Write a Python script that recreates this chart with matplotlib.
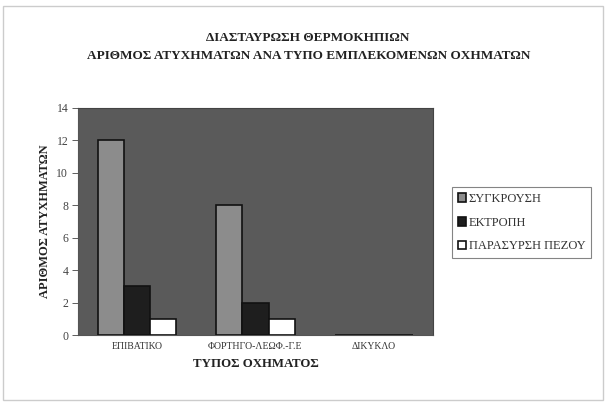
import matplotlib
matplotlib.use("Agg")
import matplotlib.pyplot as plt
import numpy as np
from matplotlib.patches import Rectangle

categories = ["ΕΠΙΒΑΤΙΚΟ", "ΦΟΡΤΗΓΟ-ΛΕΩΦ.-Γ.Ε", "ΔΙΚΥΚΛΟ"]
series_names = ["ΣΥΓΚΡΟΥΣΗ", "ΕΚΤΡΟΠΗ", "ΠΑΡΑΣΥΡΣΗ ΠΕΖΟΥ"]
sygkrousi = [12, 8, 0]
ektropi = [3, 2, 0]
parasyrsi = [1, 1, 0]
yticks = [0, 2, 4, 6, 8, 10, 12, 14]

plt.rcParams['font.family'] = ['Liberation Serif', 'DejaVu Serif']

fig = plt.figure(figsize=(6.06, 4.04), dpi=100)
fig.patch.set_facecolor('white')
ax = fig.add_axes([78/606, 1-335/404, (433-78)/606, (335-108)/404])
ax.set_facecolor('#5a5a5a')

x = np.arange(len(categories))
w = 0.22
colors = ['#8c8c8c', '#1e1e1e', '#ffffff']
for i, (vals, name, c) in enumerate(zip([sygkrousi, ektropi, parasyrsi], series_names, colors)):
    ax.bar(x + (i - 1) * w, vals, width=w, color=c, edgecolor='#111111', linewidth=1.2, label=name, zorder=3)

ax.set_xlim(-0.5, 2.5)
ax.set_ylim(0, 14)
ax.set_yticks(yticks)
ax.set_xticks(x)
ax.set_xticklabels(categories, fontsize=7, color='#333333')
ax.tick_params(axis='y', labelsize=8.5, colors='#444444', length=4, width=0.6, direction='out', pad=3)
ax.tick_params(axis='x', length=0, pad=5)
for s in ['left', 'bottom']:
    ax.spines[s].set_color('#555555')
    ax.spines[s].set_linewidth(0.8)
for s in ['top', 'right']:
    ax.spines[s].set_color('#444444')
    ax.spines[s].set_linewidth(0.8)

ax.set_ylabel("ΑΡΙΘΜΟΣ ΑΤΥΧΗΜΑΤΩΝ", fontsize=9, fontweight='bold', color='#222222', labelpad=4)
ax.set_xlabel("ΤΥΠΟΣ ΟΧΗΜΑΤΟΣ", fontsize=9.3, fontweight='bold', color='#222222', labelpad=5)

fig.text(0.508, 1-38/404, "ΔΙΑΣΤΑΥΡΩΣΗ ΘΕΡΜΟΚΗΠΙΩΝ", ha='center', va='center',
         fontsize=9.5, fontweight='bold', color='#222222')
fig.text(0.510, 1-56/404, "ΑΡΙΘΜΟΣ ΑΤΥΧΗΜΑΤΩΝ ΑΝΑ ΤΥΠΟ ΕΜΠΛΕΚΟΜΕΝΩΝ ΟΧΗΜΑΤΩΝ", ha='center', va='center',
         fontsize=9.5, fontweight='bold', color='#222222')

leg = fig.legend(loc='upper left', bbox_to_anchor=(452/606, 1-187/404), fontsize=9,
                 frameon=True, fancybox=False, edgecolor='#666666', handlelength=0.7,
                 handleheight=0.7, handletextpad=0.2, borderpad=0.45, labelspacing=0.95,
                 borderaxespad=0)
leg.get_frame().set_linewidth(0.8)
for t in leg.get_texts():
    t.set_color('#333333')

# scan frame
fig.add_artist(Rectangle((0.005, 0.01), 0.99, 0.975, transform=fig.transFigure,
                         fill=False, edgecolor='#cccccc', linewidth=1))

fig.savefig("out.png", dpi=100)
